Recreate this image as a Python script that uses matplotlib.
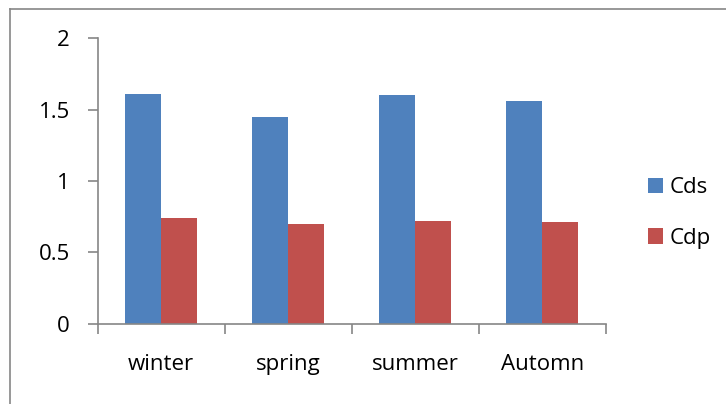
import matplotlib.pyplot as plt
import numpy as np
from matplotlib.lines import Line2D

# Data
seasons = ['winter', 'spring', 'summer', 'Automn']
cds = [1.61, 1.45, 1.60, 1.56]
cdp = [0.74, 0.70, 0.72, 0.71]

plt.rcParams['font.family'] = ['Open Sans', 'DejaVu Sans']

fig = plt.figure(figsize=(7.26, 4.04), dpi=100)
ax = fig.add_axes([97.7 / 726, 1 - 323.7 / 404, 508 / 726, (323.7 - 38.3) / 404])

x = np.arange(len(seasons))
w = 0.283
ax.bar(x - w / 2, cds, width=w, color='#4F81BD', label='Cds')
ax.bar(x + w / 2, cdp, width=w, color='#C0504D', label='Cdp')

ax.set_xlim(-0.5, len(seasons) - 0.5)
ax.set_ylim(0, 2)
ax.set_yticks([0, 0.5, 1, 1.5, 2])
ax.set_yticklabels(['0', '0.5', '1', '1.5', '2'])

# category labels in the middle, ticks on the boundaries
ax.set_xticks(x)
ax.set_xticklabels(seasons)
ax.set_xticks(np.arange(len(seasons) + 1) - 0.5, minor=True)
ax.tick_params(axis='x', which='major', length=0, pad=22, labelsize=16)
ax.tick_params(axis='x', which='minor', length=7, color='#868686', width=1.2)
ax.tick_params(axis='y', length=7, color='#868686', width=1.2, pad=13, labelsize=16)

for s in ['top', 'right']:
    ax.spines[s].set_visible(False)
for s in ['left', 'bottom']:
    ax.spines[s].set_color('#868686')
    ax.spines[s].set_linewidth(1.2)

ax.legend(loc='center left', bbox_to_anchor=(1.044, 0.388), frameon=False,
          handlelength=0.68, handleheight=0.68, handletextpad=0.3,
          labelspacing=1.33, fontsize=16)

# outer chart border (only left and top visible in the crop)
fig.add_artist(Line2D([10 / 726, 10 / 726], [0, 1 - 9 / 404], transform=fig.transFigure,
                      color='#868686', lw=1.2))
fig.add_artist(Line2D([10 / 726, 1], [1 - 9 / 404, 1 - 9 / 404], transform=fig.transFigure,
                      color='#868686', lw=1.2))

plt.savefig('out.png', dpi=100)
